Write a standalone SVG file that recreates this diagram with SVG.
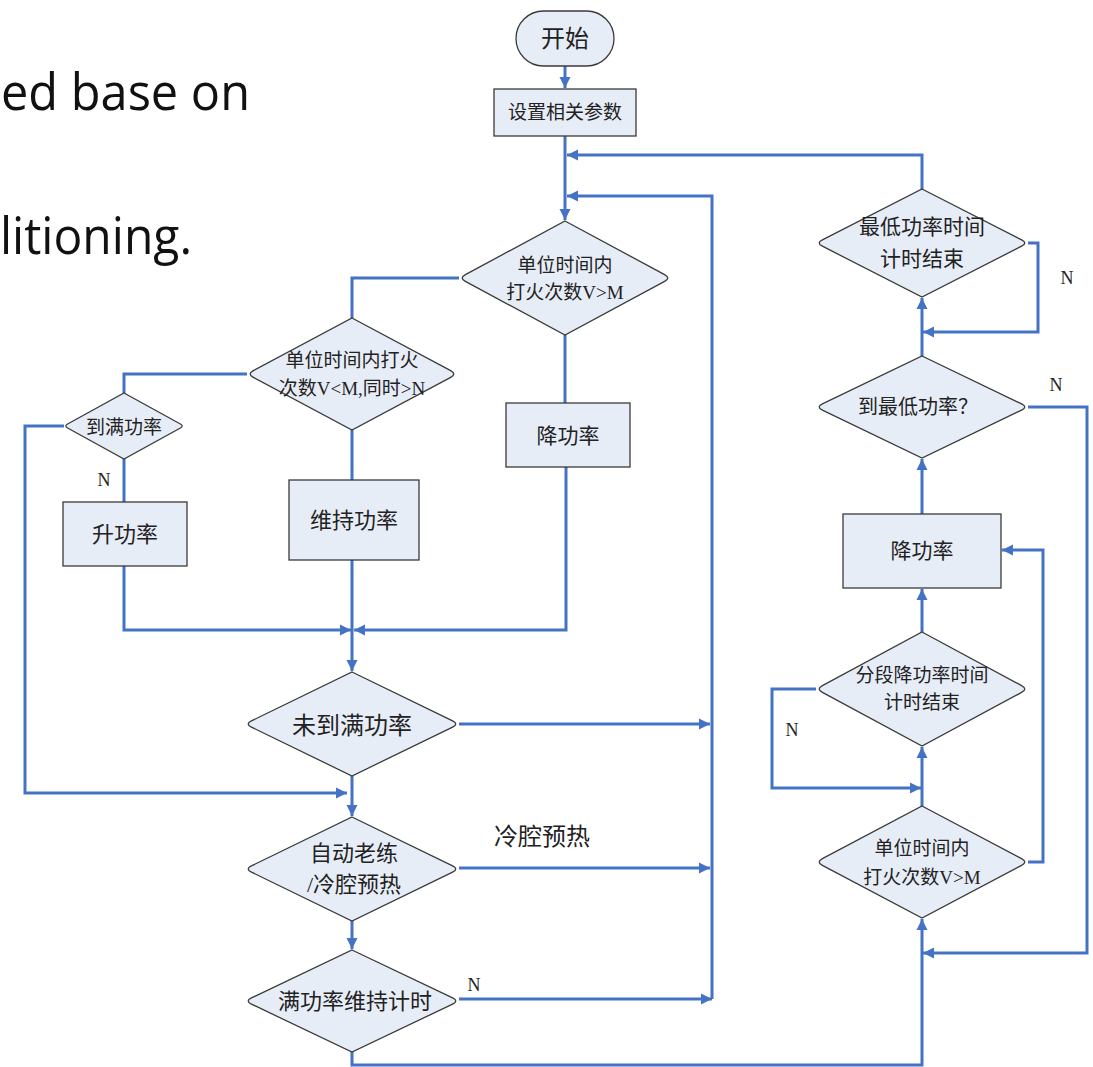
<svg xmlns="http://www.w3.org/2000/svg" width="1093" height="1067" viewBox="0 0 1093 1067">
<defs>
<marker id="arr" markerUnits="userSpaceOnUse" markerWidth="12" markerHeight="12" refX="11" refY="6" orient="auto">
<path d="M0,0.5 L11,6 L0,11.5 Z" fill="#4472C4"/>
</marker>
<style>
.n{fill:#E7EDF7;stroke:#3a3a3a;stroke-width:1.3}
.t{font-family:"Liberation Serif","Noto Sans CJK SC",serif;fill:#222;text-anchor:middle}
.c path{fill:none;stroke:#4472C4;stroke-width:3}
.a{marker-end:url(#arr)}
.big{font-family:"Open Sans","Noto Sans",sans-serif;font-size:52px;fill:#111}
</style>
</defs>
<rect width="1093" height="1067" fill="#fff"/>
<text class="big" x="1" y="110" textLength="249" lengthAdjust="spacingAndGlyphs">ed base on</text>
<text class="big" x="0" y="254" textLength="192" lengthAdjust="spacingAndGlyphs">litioning.</text>

<g class="c" id="connectors">
<path class="a" d="M565,66 L565,88"/>
<path class="a" d="M565,136 L565,220"/>
<path class="a" d="M922,189 L922,155 L567,155"/>
<path class="a" d="M712,999 L712,196 L567,196"/>
<path class="a" d="M459,724 L710,724"/>
<path class="a" d="M459,868 L710,868"/>
<path class="a" d="M459,999 L712,999"/>
<path d="M459,278 L352,278 L352,318"/>
<path d="M565,335 L565,403"/>
<path d="M247,374 L124,374 L124,393"/>
<path d="M352,430 L352,480"/>
<path class="a" d="M64,426 L25,426 L25,793 L347,793"/>
<path d="M124,459 L124,502"/>
<path class="a" d="M124,566 L124,630 L351,630"/>
<path class="a" d="M566,467 L566,630 L354,630"/>
<path class="a" d="M352,560 L352,671"/>
<path class="a" d="M352,776 L352,816"/>
<path class="a" d="M352,921 L352,949"/>
<path class="a" d="M352,1052 L352,1065 L922,1065 L922,919"/>
<path class="a" d="M922,806 L922,747"/>
<path class="a" d="M816,689 L772,689 L772,788 L921,788"/>
<path class="a" d="M922,632 L922,589"/>
<path class="a" d="M1028,862 L1043,862 L1043,550 L1002,550"/>
<path class="a" d="M922,514 L922,459"/>
<path class="a" d="M1028,407 L1087,407 L1087,953 L923,953"/>
<path class="a" d="M922,356 L922,298"/>
<path class="a" d="M1028,243 L1038,243 L1038,332 L923,332"/>
</g>

<g id="start">
<rect class="n" x="516" y="11" width="98" height="55" rx="27.5"/>
<text class="t" x="565" y="46.5" font-size="24">开始</text>
</g>
<g id="setParams">
<rect class="n" x="494" y="89" width="142" height="47"/>
<text class="t" x="565" y="119" font-size="19">设置相关参数</text>
</g>
<g id="d1" transform="translate(565,278)">
<path class="n" d="M0,-57 L99.6,-3.4 Q106,0 99.6,3.4 L0,57 L-99.6,3.4 Q-106,0 -99.6,-3.4 Z"/>
<text class="t" x="0" y="-6" font-size="19">单位时间内</text>
<text class="t" x="0" y="21" font-size="19">打火次数V&gt;M</text>
</g>
<g id="d2" transform="translate(352,374)">
<path class="n" d="M0,-56 L98.7,-3.4 Q105,0 98.7,3.4 L0,56 L-98.7,3.4 Q-105,0 -98.7,-3.4 Z"/>
<text class="t" x="0" y="-7" font-size="19">单位时间内打火</text>
<text class="t" x="0" y="21" font-size="19">次数V&lt;M,同时&gt;N</text>
</g>
<g id="dFull" transform="translate(124,426)">
<path class="n" d="M0,-33 L56.4,-2 Q60,0 56.4,2 L0,33 L-56.4,2 Q-60,0 -56.4,-2 Z"/>
<text class="t" x="0" y="8" font-size="19">到满功率</text>
</g>
<g id="decL">
<rect class="n" x="506" y="403" width="124" height="64"/>
<text class="t" x="568" y="442.5" font-size="21">降功率</text>
</g>
<g id="inc">
<rect class="n" x="63" y="502" width="124" height="64"/>
<text class="t" x="125" y="542" font-size="22">升功率</text>
</g>
<g id="keep">
<rect class="n" x="289" y="480" width="130" height="80"/>
<text class="t" x="354" y="528" font-size="22">维持功率</text>
</g>
<g id="d3" transform="translate(352,724)">
<path class="n" d="M0,-52 L100.6,-3.1 Q107,0 100.6,3.1 L0,52 L-100.6,3.1 Q-107,0 -100.6,-3.1 Z"/>
<text class="t" x="0" y="10" font-size="24">未到满功率</text>
</g>
<g id="d4" transform="translate(352,869)">
<path class="n" d="M0,-52 L100.6,-3.1 Q107,0 100.6,3.1 L0,52 L-100.6,3.1 Q-107,0 -100.6,-3.1 Z"/>
<text class="t" x="2" y="-8" font-size="22">自动老练</text>
<text class="t" x="2" y="23" font-size="22">/冷腔预热</text>
</g>
<g id="d5" transform="translate(352,1001)">
<path class="n" d="M0,-51 L100.6,-3.1 Q107,0 100.6,3.1 L0,51 L-100.6,3.1 Q-107,0 -100.6,-3.1 Z"/>
<text class="t" x="3" y="8" font-size="22">满功率维持计时</text>
</g>
<g id="r1" transform="translate(922,243)">
<path class="n" d="M0,-54 L99.6,-3.2 Q106,0 99.6,3.2 L0,54 L-99.6,3.2 Q-106,0 -99.6,-3.2 Z"/>
<text class="t" x="0" y="-9.5" font-size="21">最低功率时间</text>
<text class="t" x="0" y="22.5" font-size="21">计时结束</text>
</g>
<g id="r2" transform="translate(922,407)">
<path class="n" d="M0,-51 L99.6,-3.1 Q106,0 99.6,3.1 L0,51 L-99.6,3.1 Q-106,0 -99.6,-3.1 Z"/>
<text class="t" x="-4" y="7" font-size="20">到最低功率？</text>
</g>
<g id="decR">
<rect class="n" x="843" y="514" width="158" height="74"/>
<text class="t" x="922" y="557.5" font-size="21">降功率</text>
</g>
<g id="r3" transform="translate(922,689)">
<path class="n" d="M0,-57 L99.6,-3.4 Q106,0 99.6,3.4 L0,57 L-99.6,3.4 Q-106,0 -99.6,-3.4 Z"/>
<text class="t" x="0" y="-7" font-size="19">分段降功率时间</text>
<text class="t" x="0" y="20" font-size="19">计时结束</text>
</g>
<g id="r4" transform="translate(922,862)">
<path class="n" d="M0,-56 L99.6,-3.4 Q106,0 99.6,3.4 L0,56 L-99.6,3.4 Q-106,0 -99.6,-3.4 Z"/>
<text class="t" x="0" y="-7" font-size="19">单位时间内</text>
<text class="t" x="0" y="22" font-size="19">打火次数V&gt;M</text>
</g>

<g id="labels">
<text class="t" x="542" y="844.5" font-size="24">冷腔预热</text>
<text class="t" x="104" y="486" font-size="18">N</text>
<text class="t" x="474" y="991" font-size="18">N</text>
<text class="t" x="1067" y="284" font-size="18">N</text>
<text class="t" x="1056" y="391" font-size="18">N</text>
<text class="t" x="792" y="736" font-size="18">N</text>
</g>
</svg>
